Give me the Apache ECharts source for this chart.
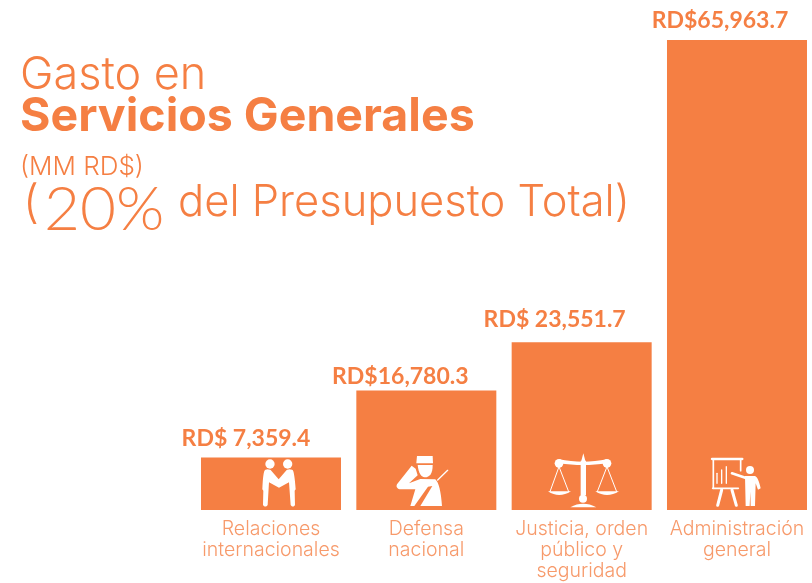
<!DOCTYPE html>
<html><head><meta charset="utf-8">
<style>html,body{margin:0;padding:0;background:#fff;overflow:hidden;width:812px;height:583px}#c{width:820px;height:583px}</style>
<script src="https://cdn.jsdelivr.net/npm/echarts@6/dist/echarts.min.js"></script>
</head><body><div id="c"></div>
<script>
const categories = ['Relaciones\ninternacionales', 'Defensa\nnacional', 'Justicia, orden\npúblico y\nseguridad', 'Administración\ngeneral'];
const values = [7359.4, 16780.3, 23551.7, 65963.7];
const valueLabels = ['RD$ 7,359.4', 'RD$16,780.3', 'RD$ 23,551.7', 'RD$65,963.7'];
const ORANGE = '#F57F43', FONT = 'Inter, Lato, sans-serif';
const labelShifts = [[-25,1], [-26,6], [-27,-3], [-17,0]];
const W = '#fff';
function flatten(d){
  const t = d.match(/[MLQZ]|-?[\d.]+/g), pts = []; let i = 0, cmd = '';
  while(i < t.length){
    if(/[MLQZ]/.test(t[i])){ cmd = t[i++]; if(cmd==='Z') continue; }
    if(cmd==='Q'){
      const a = pts[pts.length-1], cx=+t[i], cy=+t[i+1], x=+t[i+2], y=+t[i+3]; i+=4;
      for(let k=1;k<=8;k++){ const u=k/8, v=1-u; pts.push([v*v*a[0]+2*u*v*cx+u*u*x, v*v*a[1]+2*u*v*cy+u*u*y]); }
    } else { pts.push([+t[i], +t[i+1]]); i+=2; }
  }
  return pts;
}
const fill = d => ({type:'polygon', shape:{points:flatten(d)}, style:{fill:W}});
const dot = (cx, cy, r) => ({type:'circle', shape:{cx, cy, r}, style:{fill:W}});
const seg = (x1, y1, x2, y2, w) => ({type:'line', shape:{x1,y1,x2,y2}, style:{stroke:W, lineWidth:w, lineCap:'round'}});
const icons = [
  { anchor:[243,270], parts:[
    dot(240,132,14), dot(293,132,14),
    fill('M225 150Q232 146 242 150L266 178L290 150Q298 146 308 150Q313 155 317 208L314 212L315 255Q309 264 302 255L297 187L267 203L237 187L233 255Q226 264 219 255L220 212L217 208Q219 155 225 150Z')
  ]},
  { anchor:[708,270], parts:[
    fill('M680 108L727 108L728 130L678 130Z'),
    fill('M682 135L727 135Q727 172 703 172Q686 170 682 135Z'),
    fill('M664 137L676 146L682 166L656 190L690 177L735 178Q750 190 755 258L690 258L726 198L713 200L672 258L660 258L675 208L628 208Q615 203 620 193Z'),
    seg(742,180,772,151,4)
  ]},
  { anchor:[246,270], parts:[
    fill('M245 122L251 100L257 122L259 122L259 225L243 225L243 122Z'),
    fill('M178 118Q250 132 322 118L322 130Q250 140 178 130Z'),
    dot(178,130,13), dot(322,130,13), dot(250,236,12),
    fill('M212 262Q250 240 290 262Z'),
    seg(178,140,151,215,3), seg(178,140,207,215,3),
    seg(322,140,293,215,3), seg(322,140,351,215,3),
    fill('M145 214L214 214Q178 236 145 214Z'),
    fill('M287 214L358 214Q322 236 287 214Z')
  ]},
  { anchor:[711,270], parts:[
    seg(636,117,727,117,7), seg(640,120,640,205,5), seg(638,205,715,205,5), seg(722,120,722,152,5),
    seg(651,160,651,190,4), seg(665,150,665,190,4), seg(679,140,679,190,4),
    seg(665,210,653,256,9), seg(696,210,709,256,9),
    dot(750,150,12), seg(696,160,738,174,8),
    fill('M735 168L765 168Q775 172 782 205L774 209L767 190L765 258L752 258L751 215L749 258L737 258Z')
  ]}
];
const chart = echarts.init(document.getElementById('c'), null, {renderer:'canvas'});
const head = (text, left, top, size, weight, family) => ({text, left, top, textStyle:{fontFamily:family||FONT, fontSize:size, fontWeight:weight||300, color:ORANGE}, padding:0});
chart.setOption({
  animation:false,
  title:[
    head('Gasto en', 20, 53, 45),
    head('Servicios Generales', 20, 94, 46.5, 700),
    head('(MM RD$)', 20, 154, 26),
    head('(', 23, 181, 46),
    head('20%', 44, 179, 62, 300, 'Lato, sans-serif'),
    head('del Presupuesto Total)', 178, 181, 43.5)
  ],
  grid:{left:193.33, top:40, width:621.33, height:470},
  xAxis:{type:'category', data:categories, axisLine:{show:false}, axisTick:{show:false},
    axisLabel:{interval:0, margin:9, fontFamily:FONT, fontSize:19.5, fontWeight:300, lineHeight:21, color:'#F79A6B'}},
  yAxis:{type:'value', min:0, max:65963.7, show:false},
  series:[
    {type:'bar', barWidth:140, itemStyle:{color:ORANGE},
     data:values.map((value,i)=>({value, label:{offset:labelShifts[i]}})),
     label:{show:true, position:'top', distance:8, fontFamily:'Lato, sans-serif', fontSize:23, fontWeight:700, color:ORANGE,
       formatter:p=>valueLabels[p.dataIndex]}},
    {type:'custom', data:values.map((v,i)=>[i,0]), silent:true, z:5,
     renderItem:(params, api)=>{
       const ic = icons[params.dataIndex], p = api.coord([api.value(0), api.value(1)]);
       return {type:'group', x:p[0]-ic.anchor[0]/3, y:p[1]-ic.anchor[1]/3, scaleX:1/3, scaleY:1/3, children:ic.parts};
     }}
  ]
});
</script></body></html>
